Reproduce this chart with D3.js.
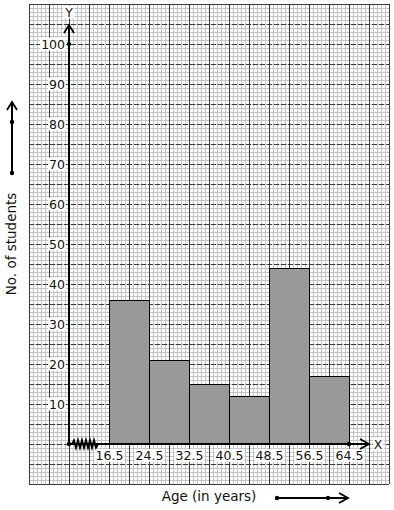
<!DOCTYPE html>
<html>
  <head>
    <meta charset="utf-8">
    <title>Age histogram</title>
    <style>
      html, body { margin: 0; padding: 0; background: #fff; }
      svg { display: block; font-family: "DejaVu Sans", sans-serif; }
    </style>
  </head>
  <body>
    <script src="https://cdn.jsdelivr.net/npm/d3@7"></script>
    <div id="chart"></div>
    <script>

      // class edges (age) and number of students in each class
      var edges = [16.5, 24.5, 32.5, 40.5, 48.5, 56.5, 64.5]
      var counts = [36, 21, 15, 12, 44, 17]
      var yTicks = [10, 20, 30, 40, 50, 60, 70, 80, 90, 100]

      var bins = counts.map(function(c, i) { return {x0: edges[i], x1: edges[i + 1], n: c} })

      var W = 394, H = 510

      var svg = d3.select("#chart").append("svg")
        .attr("width", W)
        .attr("height", H)

      // graph paper: 5px per year, 4px per student
      var x = d3.scaleLinear().domain([0.5, 72.5]).range([29, 389])
      var y = d3.scaleLinear().domain([-10, 110]).range([484, 4])
      var xOrigin = 8.5   // age where the broken axis starts

      var grid = svg.append("g")

      // minor lines
      grid.selectAll(".vmin")
        .data(d3.range(0, 91).map(function(i) { return 0.5 + i * 0.8 }))
        .enter().append("line")
        .attr("x1", function(d) { return Math.round(x(d)) + 0.5 })
        .attr("x2", function(d) { return Math.round(x(d)) + 0.5 })
        .attr("y1", y(110)).attr("y2", y(-10))
        .attr("stroke", "#c4c4c4")
      grid.selectAll(".hmin")
        .data(d3.range(-10, 111))
        .enter().append("line")
        .attr("y1", function(d) { return Math.round(y(d)) + 0.5 })
        .attr("y2", function(d) { return Math.round(y(d)) + 0.5 })
        .attr("x1", x(0.5)).attr("x2", x(72.5))
        .attr("stroke", "#c4c4c4")

      // major lines
      grid.selectAll(".vmaj")
        .data(d3.range(0, 19).map(function(i) { return 0.5 + i * 4 }))
        .enter().append("line")
        .attr("x1", function(d) { return Math.round(x(d)) + 0.5 })
        .attr("x2", function(d) { return Math.round(x(d)) + 0.5 })
        .attr("y1", y(110)).attr("y2", y(-10))
        .attr("stroke", "#3a3a3a")
      grid.selectAll(".hmaj")
        .data(d3.range(-10, 111, 5))
        .enter().append("line")
        .attr("y1", function(d) { return Math.round(y(d)) + 0.5 })
        .attr("y2", function(d) { return Math.round(y(d)) + 0.5 })
        .attr("x1", x(0.5)).attr("x2", x(72.5))
        .attr("stroke", "#3a3a3a")
        .attr("stroke-dasharray", function(d) { return (d == -10 || d == 110) ? null : "5,2" })

      // bars
      svg.append("g").selectAll("rect")
        .data(bins)
        .enter().append("rect")
        .attr("x", function(d) { return x(d.x0) + 0.5 })
        .attr("y", function(d) { return y(d.n) + 0.5 })
        .attr("width", function(d) { return x(d.x1) - x(d.x0) })
        .attr("height", function(d) { return y(0) - y(d.n) })
        .attr("fill", "#999999")
        .attr("stroke", "#000")
        .attr("stroke-width", 1)

      // tick labels with white boxes
      function whiteBoxes(g) {
        g.selectAll(".tick").each(function() {
          var t = d3.select(this).select("text")
          var b = t.node().getBBox()
          d3.select(this).insert("rect", "text")
            .attr("x", b.x - 1).attr("y", b.y + 1)
            .attr("width", b.width + 2).attr("height", b.height - 2)
            .attr("fill", "#fff")
        })
      }

      var yAxis = svg.append("g")
        .attr("transform", "translate(" + (x(xOrigin) - 4) + ",0)")
        .call(d3.axisLeft(y).tickValues(yTicks).tickSize(0).tickPadding(0))
      yAxis.select(".domain").remove()
      yAxis.selectAll("text")
        .attr("font-size", 12.5)
        .attr("font-family", "DejaVu Sans")
        .attr("fill", "#111")
      yAxis.call(whiteBoxes)

      var xAxis = svg.append("g")
        .attr("transform", "translate(0," + y(0) + ")")
        .call(d3.axisBottom(x).tickValues(edges).tickFormat(d3.format(".1f")).tickSize(0).tickPadding(7))
      xAxis.select(".domain").remove()
      xAxis.selectAll("text")
        .attr("font-size", 12.5)
        .attr("font-family", "DejaVu Sans")
        .attr("fill", "#111")
      xAxis.call(whiteBoxes)

      // axis lines
      var x0 = x(xOrigin), y0 = y(0)
      var yTip = y(104.75), xTip = x(68.5)
      svg.append("line")
        .attr("x1", x0).attr("y1", y0).attr("x2", x0).attr("y2", yTip)
        .attr("stroke", "#000").attr("stroke-width", 2)
      svg.append("line")
        .attr("x1", x0).attr("y1", y0).attr("x2", xTip).attr("y2", y0)
        .attr("stroke", "#000").attr("stroke-width", 2)

      function chevron(px, py, dir) {
        var p = dir == "up"
          ? [[px - 5, py + 8], [px, py], [px + 5, py + 8]]
          : [[px - 9, py - 5], [px, py], [px - 9, py + 5]]
        svg.append("path")
          .attr("d", d3.line()(p))
          .attr("fill", "none").attr("stroke", "#000").attr("stroke-width", 1.8)
      }
      chevron(x0, yTip, "up")
      chevron(xTip, y0, "right")

      // kink on the x axis
      var zz = [[x0 + 3, y0]]
      for (var i = 0; i < 12; i++) {
        zz.push([x0 + 5 + i * 2, y0 + (i % 2 == 0 ? -3.5 : 3.5)])
      }
      zz.push([x0 + 29, y0])
      svg.append("path")
        .attr("d", d3.line()(zz))
        .attr("fill", "none").attr("stroke", "#000").attr("stroke-width", 2)

      // dots
      svg.selectAll(".dot")
        .data([[xOrigin, 0], [xOrigin, 100], [64.5, 0]])
        .enter().append("circle")
        .attr("cx", function(d) { return x(d[0]) })
        .attr("cy", function(d) { return y(d[1]) })
        .attr("r", 2.2)
        .attr("fill", "#000")

      // axis letters
      function letter(px, py, s) {
        var t = svg.append("text")
          .attr("x", px).attr("y", py)
          .attr("text-anchor", "middle").attr("dominant-baseline", "central")
          .attr("font-size", 12.5).attr("fill", "#111")
          .text(s)
        var b = t.node().getBBox()
        svg.insert("rect", function() { return t.node() })
          .attr("x", b.x - 1).attr("y", b.y + 1)
          .attr("width", b.width + 2).attr("height", b.height - 2)
          .attr("fill", "#fff")
      }
      letter(x0, 12, "Y")
      letter(xTip + 9, y0, "X")

      // axis titles
      svg.append("text")
        .attr("transform", "translate(16,244) rotate(-90)")
        .attr("text-anchor", "middle")
        .attr("font-size", 13.5).attr("fill", "#111")
        .text("No. of students")
      svg.append("text")
        .attr("x", 209).attr("y", 501)
        .attr("text-anchor", "middle")
        .attr("font-size", 13.5).attr("fill", "#111")
        .text("Age (in years)")

      // direction arrows beside the titles
      svg.append("line")
        .attr("x1", 12).attr("y1", 173).attr("x2", 12).attr("y2", 103)
        .attr("stroke", "#000").attr("stroke-width", 2)
      svg.append("path")
        .attr("d", d3.line()([[7, 110], [12, 102], [17, 110]]))
        .attr("fill", "none").attr("stroke", "#000").attr("stroke-width", 1.8)
      svg.append("line")
        .attr("x1", 277).attr("y1", 498).attr("x2", 347).attr("y2", 498)
        .attr("stroke", "#000").attr("stroke-width", 2)
      svg.append("path")
        .attr("d", d3.line()([[339, 493], [348, 498], [339, 503]]))
        .attr("fill", "none").attr("stroke", "#000").attr("stroke-width", 1.8)
      svg.selectAll(".adot")
        .data([[12, 122], [12, 173], [277, 498], [328, 498]])
        .enter().append("circle")
        .attr("cx", function(d) { return d[0] })
        .attr("cy", function(d) { return d[1] })
        .attr("r", 2.2)
        .attr("fill", "#000")

    </script>
  </body>
</html>
